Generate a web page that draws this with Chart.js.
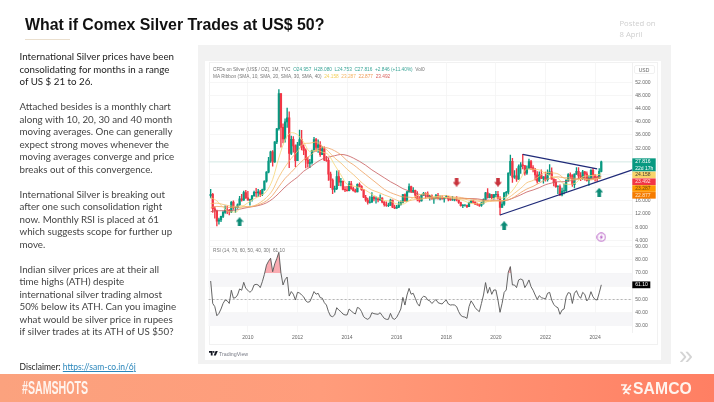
<!DOCTYPE html>
<html>
<head>
<meta charset="utf-8">
<title>What if Comex Silver Trades at US$ 50?</title>
<script src="https://cdn.jsdelivr.net/npm/chart.js@4/dist/chart.umd.min.js"></script>
<style>
html, body { margin: 0; padding: 0; background: #fff; }
#page { position: relative; width: 714px; height: 402px; overflow: hidden; font-family: "Liberation Sans", Arial, sans-serif; filter: blur(0.3px); }
#page > * { position: absolute; }
#title { left: 25px; top: 15px; font-size: 15.9px; font-weight: bold; color: #111; white-space: nowrap; line-height: 20px; }
#rule { left: 25px; top: 39px; width: 45px; height: 1px; background: #eadfce; }
#story { left: 19.5px; top: 50px; width: 172px; font-family: Lato, sans-serif; font-size: 9.75px; line-height: 12.52px; color: #444; white-space: nowrap; }
#story b { font-weight: normal; color: #1b1b1b; }
#disclaimer { left: 19.5px; top: 361px; font-family: Lato, sans-serif; font-size: 8.5px; line-height: 12px; color: #222; white-space: nowrap; }
#disclaimer a { color: #2a86bb; text-decoration: underline; }
#posted { left: 619.5px; top: 18px; font-family: "Open Sans", sans-serif; font-size: 7.7px; line-height: 11px; color: #cfcfcf; white-space: nowrap; }
#frame { left: 198px; top: 45px; width: 472.5px; height: 319px; background: #f2f2f2; }
#sheet { left: 205px; top: 61px; width: 455.5px; height: 299px; background: #fff; }
#border { left: 208.5px; top: 62px; width: 449px; height: 283px; border: 1px solid #f1f1f1; box-sizing: border-box; }
canvas { position: absolute; left: 205px; }
#priceChart { top: 61px; }
#rsiChart { top: 244px; }
.legend { font-size: 4.75px; line-height: 7px; color: #777; white-space: nowrap; }
#legend1 { left: 213px; top: 65.5px; }
#legend2 { left: 213px; top: 72.5px; }
#legend3 { left: 213px; top: 246.5px; }
.teal { color: #3aa597; }
#usd { left: 633.5px; top: 65px; width: 21px; height: 9px; border: 1px solid #f0f0f0; border-radius: 2px; font-size: 5px; line-height: 8px; text-align: center; color: #666; box-sizing: border-box; }
#tvlogo { left: 209px; top: 351px; }
#tvname { left: 219px; top: 349.5px; font-size: 5.3px; line-height: 8px; color: #787b86; }
#more { left: 679px; top: 343px; font-size: 25px; line-height: 25px; color: #d4d4d4; }
#band { left: 0; top: 374px; width: 714px; height: 28px; background: linear-gradient(90deg, #fba27e 0%, #ff9c7b 45%, #ff7f63 100%); }
#tag { left: 22px; top: 378px; font-family: "Liberation Sans", sans-serif; font-size: 18px; font-weight: bold; line-height: 20px; color: #fff4ee; white-space: nowrap; transform-origin: left center; transform: scaleX(0.59); }
#samco { left: 633px; top: 379.5px; font-size: 15.7px; font-weight: bold; line-height: 18px; color: #fff4ee; letter-spacing: 0.1px; white-space: nowrap; }
#mark { left: 620px; top: 384px; }
</style>
</head>
<body>
<div id="page">
  <div id="title">What if Comex Silver Trades at US$ 50?</div>
  <div id="rule"></div>
  <div id="story"><b>International Silver prices have been<br>consolidating for months in a range<br>of US $ 21 to 26.</b><br><br>Attached besides is a monthly chart<br>along with 10, 20, 30 and 40 month<br>moving averages. One can generally<br>expect strong moves whenever the<br>moving averages converge and price<br>breaks out of this convergence.<br><br>International Silver is breaking out<br>after one such consolidation right<br>now. Monthly RSI is placed at 61<br>which suggests scope for further up<br>move.<br><br>Indian silver prices are at their all<br>time highs (ATH) despite<br>international silver trading almost<br>50% below its ATH. Can you imagine<br>what would be silver price in rupees<br>if silver trades at its ATH of US $50?</div>
  <div id="disclaimer">Disclaimer: <a href="https://sam-co.in/6j">https://sam-co.in/6j</a></div>
  <div id="posted">Posted on<br>8 April</div>
  <div id="frame"></div>
  <div id="sheet"></div>
  <div id="border"></div>
  <canvas id="priceChart" width="455" height="184"></canvas>
  <canvas id="rsiChart" width="455" height="102"></canvas>
  <div id="legend1" class="legend">CFDs on Silver (US$ / OZ), 1M, TVC&nbsp; <span class="teal">O24.957 &nbsp;H28.080 &nbsp;L24.753 &nbsp;C27.816 &nbsp;+2.846 (+11.40%)</span>&nbsp; Vol0</div>
  <div id="legend2" class="legend">MA Ribbon (SMA, 10, SMA, 20, SMA, 30, SMA, 40)&nbsp; <span style="color:#f2cf5b">24.158</span>&nbsp; <span style="color:#f3b463">23.287</span>&nbsp; <span style="color:#ee9a55">22.877</span>&nbsp; <span style="color:#d9605c">23.492</span></div>
  <div id="legend3" class="legend">RSI (14, 70, 60, 50, 40, 30)&nbsp; 61.10</div>
  <div id="usd">USD</div>
  <svg id="tvlogo" width="9" height="5" viewBox="0 0 9 5"><path d="M0 0 H3.6 V4.6 H1.8 V1.8 H0 Z M6.6 0 H8.8 L6.8 4.6 H4.7 Z" fill="#131722"/><circle cx="4.7" cy="0.9" r="0.9" fill="#131722"/></svg>
  <div id="tvname">TradingView</div>
  <div id="more">&raquo;</div>
  <div id="band"></div>
  <div id="tag">#SAMSHOTS</div>
  <svg id="mark" width="12" height="11" viewBox="0 0 12 11"><path d="M1 1 H6 L3.5 5.5 H11 M11 1 L3.5 10 M5 7 L9.5 10" fill="none" stroke="#fff4ee" stroke-width="1.6"/></svg>
  <div id="samco">SAMCO</div>
</div>

<script>
// Monthly time axis, one blank month in front and the empty space to the right of the last candle
const months = [
    '2008-06','2008-07','2008-08','2008-09','2008-10','2008-11','2008-12',
    '2009-01','2009-02','2009-03','2009-04','2009-05','2009-06','2009-07','2009-08','2009-09','2009-10','2009-11','2009-12',
    '2010-01','2010-02','2010-03','2010-04','2010-05','2010-06','2010-07','2010-08','2010-09','2010-10','2010-11','2010-12',
    '2011-01','2011-02','2011-03','2011-04','2011-05','2011-06','2011-07','2011-08','2011-09','2011-10','2011-11','2011-12',
    '2012-01','2012-02','2012-03','2012-04','2012-05','2012-06','2012-07','2012-08','2012-09','2012-10','2012-11','2012-12',
    '2013-01','2013-02','2013-03','2013-04','2013-05','2013-06','2013-07','2013-08','2013-09','2013-10','2013-11','2013-12',
    '2014-01','2014-02','2014-03','2014-04','2014-05','2014-06','2014-07','2014-08','2014-09','2014-10','2014-11','2014-12',
    '2015-01','2015-02','2015-03','2015-04','2015-05','2015-06','2015-07','2015-08','2015-09','2015-10','2015-11','2015-12',
    '2016-01','2016-02','2016-03','2016-04','2016-05','2016-06','2016-07','2016-08','2016-09','2016-10','2016-11','2016-12',
    '2017-01','2017-02','2017-03','2017-04','2017-05','2017-06','2017-07','2017-08','2017-09','2017-10','2017-11','2017-12',
    '2018-01','2018-02','2018-03','2018-04','2018-05','2018-06','2018-07','2018-08','2018-09','2018-10','2018-11','2018-12',
    '2019-01','2019-02','2019-03','2019-04','2019-05','2019-06','2019-07','2019-08','2019-09','2019-10','2019-11','2019-12',
    '2020-01','2020-02','2020-03','2020-04','2020-05','2020-06','2020-07','2020-08','2020-09','2020-10','2020-11','2020-12',
    '2021-01','2021-02','2021-03','2021-04','2021-05','2021-06','2021-07','2021-08','2021-09','2021-10','2021-11','2021-12',
    '2022-01','2022-02','2022-03','2022-04','2022-05','2022-06','2022-07','2022-08','2022-09','2022-10','2022-11','2022-12',
    '2023-01','2023-02','2023-03','2023-04','2023-05','2023-06','2023-07','2023-08','2023-09','2023-10','2023-11','2023-12',
    '2024-01','2024-02','2024-03','2024-04','2024-05','2024-06','2024-07','2024-08','2024-09','2024-10','2024-11','2024-12',
    '2025-01','2025-02','2025-03','2025-04','2025-05','2025-06','2025-07'
];

// Candles run from 2008-07 to 2024-04
const opens = [
    17.6,18.0,13.6,12.9,9.8,10.2,
    11.3,12.5,13.2,13.1,12.6,15.6,13.9,13.9,14.8,16.6,16.2,18.5,
    16.9,16.2,16.4,17.5,18.6,18.4,18.7,18.0,19.4,22.0,24.7,28.1,
    30.9,27.8,33.9,37.9,48.6,38.3,34.8,40.0,41.2,30.4,34.7,32.7,
    28.2,33.0,34.6,32.3,31.3,28.4,27.4,27.6,31.3,34.6,32.2,33.0,
    30.0,31.8,28.4,28.3,24.1,22.3,19.5,19.7,23.4,21.7,21.9,19.5,
    19.3,19.1,21.2,19.7,19.1,18.7,21.0,20.4,19.4,17.1,16.2,15.5,
    15.6,17.1,16.6,16.6,16.3,16.8,15.6,14.8,14.6,14.6,16.2,14.1,
    13.8,14.1,14.8,15.5,17.9,15.9,18.7,20.3,18.7,19.2,17.7,16.5,
    16.0,17.8,18.3,18.1,17.2,17.5,16.6,16.7,17.6,16.6,16.7,16.6,
    17.0,17.3,16.5,16.3,16.3,16.4,16.3,15.5,14.5,14.7,14.7,14.2,
    15.5,16.0,15.6,15.0,14.9,14.6,15.3,16.4,18.4,17.0,17.9,17.0,
    17.9,18.0,16.7,14.0,15.0,18.4,18.6,24.4,28.0,23.2,23.6,22.6,
    26.4,26.9,26.7,24.4,25.9,27.9,26.1,25.5,23.9,22.0,23.9,22.8,
    23.3,22.4,24.3,24.8,22.6,21.6,20.3,20.3,17.8,19.0,19.1,22.3,
    24.0,23.7,20.9,24.1,25.0,23.6,22.7,24.8,24.2,22.1,22.9,25.3,
    23.8,23.0,22.9,24.957
];
const highs = [
    19.5,18.3,14.2,13.2,10.8,11.4,
    12.9,14.5,14.4,13.4,15.8,16.0,14.2,15.1,17.4,18.0,19.0,19.2,
    18.9,16.5,17.7,19.0,19.8,19.5,19.2,19.6,22.1,24.9,29.2,31.1,
    31.3,34.0,38.0,49.8,48.6,39.4,40.9,44.2,43.0,35.7,35.5,33.0,
    33.8,37.5,37.4,33.0,31.8,29.2,28.6,31.4,35.3,35.0,34.5,34.0,
    32.5,32.4,29.5,29.0,24.7,22.7,20.5,25.1,25.2,22.8,22.1,20.3,
    20.4,21.9,21.9,20.2,19.6,21.2,21.5,20.6,19.5,17.7,16.8,17.3,
    18.5,17.4,17.2,17.0,17.8,17.0,15.8,15.7,15.3,16.5,16.2,14.7,
    14.6,15.7,16.0,18.0,18.1,18.9,21.2,20.5,20.0,19.3,18.8,17.3,
    17.9,18.6,18.5,18.7,17.7,17.8,17.0,18.0,18.3,17.5,17.5,17.1,
    17.7,17.4,16.9,17.4,16.7,17.3,16.1,15.6,14.9,14.9,14.6,15.6,
    16.2,16.2,15.7,15.3,15.0,15.6,16.6,18.6,19.7,18.2,18.0,18.0,
    18.9,18.9,17.3,15.8,18.5,18.9,24.5,29.9,28.9,25.2,25.8,26.9,
    27.6,30.1,26.7,26.6,28.7,28.3,26.7,25.9,24.9,24.8,25.4,23.4,
    24.7,25.4,27.0,26.0,22.7,22.5,20.6,20.9,19.9,21.2,22.4,24.3,
    24.5,24.0,24.2,26.1,26.1,24.6,25.3,25.0,24.8,23.7,25.5,25.9,
    24.0,23.5,25.8,28.08
];
const lows = [
    16.9,12.5,10.7,8.4,8.9,9.7,
    10.9,12.2,12.1,11.7,12.4,13.4,12.5,13.7,14.6,15.9,16.1,16.7,
    16.2,14.7,15.9,17.4,17.2,17.3,17.3,17.6,19.2,21.7,24.5,27.7,
    26.5,27.7,33.4,37.5,32.3,33.6,33.8,38.3,26.1,30.0,30.8,26.4,
    28.2,32.8,31.5,30.0,26.0,26.2,26.1,27.1,31.0,31.0,30.7,29.5,
    30.0,28.2,28.0,22.2,20.0,18.2,18.6,19.4,20.6,20.5,19.3,18.8,
    18.9,19.0,19.5,18.9,18.6,18.7,20.2,19.2,17.0,15.8,15.0,15.3,
    15.5,16.0,15.3,15.7,16.1,15.4,14.4,14.3,14.2,14.6,13.9,13.6,
    13.7,13.9,14.7,15.4,15.8,15.8,18.6,18.5,18.5,16.9,16.0,15.6,
    15.9,17.6,16.8,17.1,16.2,16.5,15.2,16.6,16.6,16.3,16.5,15.6,
    17.0,16.0,16.1,16.1,16.0,16.0,15.2,14.4,13.9,14.4,13.9,14.2,
    15.3,15.3,14.8,14.6,14.3,14.3,15.0,16.2,16.8,16.9,16.6,16.5,
    17.2,16.5,11.7,14.0,14.6,17.2,18.0,23.7,21.6,22.8,21.9,22.5,
    24.3,25.7,23.8,24.0,25.7,25.5,24.8,22.3,21.4,21.9,22.7,21.4,
    22.0,22.0,24.0,22.6,20.5,20.1,18.2,17.6,17.5,18.1,18.8,21.9,
    22.8,20.4,19.9,24.0,22.7,22.1,22.5,22.3,22.0,20.7,22.6,22.5,
    22.0,21.9,22.7,24.753
];
const closes = [
    18.0,13.6,12.9,9.8,10.2,11.3,
    12.5,13.2,13.1,12.6,15.6,13.9,13.9,14.8,16.6,16.2,18.5,16.9,
    16.2,16.4,17.5,18.6,18.4,18.7,18.0,19.4,22.0,24.7,28.1,30.9,
    27.8,33.9,37.9,48.6,38.3,34.8,40.0,41.2,30.4,34.7,32.7,28.2,
    33.0,34.6,32.3,31.3,28.4,27.4,27.6,31.3,34.6,32.2,33.0,30.0,
    31.8,28.4,28.3,24.1,22.3,19.5,19.7,23.4,21.7,21.9,19.5,19.3,
    19.1,21.2,19.7,19.1,18.7,21.0,20.4,19.4,17.1,16.2,15.5,15.6,
    17.1,16.6,16.6,16.3,16.8,15.6,14.8,14.6,14.6,16.2,14.1,13.8,
    14.1,14.8,15.5,17.9,15.9,18.7,20.3,18.7,19.2,17.7,16.5,16.0,
    17.8,18.3,18.1,17.2,17.5,16.6,16.7,17.6,16.6,16.7,16.6,17.0,
    17.3,16.5,16.3,16.3,16.4,16.3,15.5,14.5,14.7,14.7,14.2,15.5,
    16.0,15.6,15.0,14.9,14.6,15.3,16.4,18.4,17.0,17.9,17.0,17.9,
    18.0,16.7,14.0,15.0,18.4,18.6,24.4,28.0,23.2,23.6,22.6,26.4,
    26.9,26.7,24.4,25.9,27.9,26.1,25.5,23.9,22.0,23.9,22.8,23.3,
    22.4,24.3,24.8,22.6,21.6,20.3,20.3,17.8,19.0,19.1,22.3,24.0,
    23.7,20.9,24.1,25.0,23.6,22.7,24.8,24.2,22.1,22.9,25.3,23.8,
    23.0,22.9,24.957,27.816
];

const maMonths = [
    '2008-07','2008-10',
    '2009-01','2009-04','2009-07','2009-10','2010-01','2010-04','2010-07','2010-10',
    '2011-01','2011-04','2011-07','2011-10','2012-01','2012-04','2012-07','2012-10',
    '2013-01','2013-04','2013-07','2013-10','2014-01','2014-04','2014-07','2014-10',
    '2015-01','2015-04','2015-07','2015-10','2016-01','2016-04','2016-07','2016-10',
    '2017-01','2017-04','2017-07','2017-10','2018-01','2018-04','2018-07','2018-10',
    '2019-01','2019-04','2019-07','2019-10','2020-01','2020-04','2020-07','2020-10',
    '2021-01','2021-04','2021-07','2021-10','2022-01','2022-04','2022-07','2022-10',
    '2023-01','2023-04','2023-07','2023-10','2024-01','2024-04'
];
const ma10 = [
    17.0,16.0,
    14.0,12.7,12.6,14.1,15.4,16.6,17.5,18.9,
    22.5,29.1,34.5,36.7,36.1,33.8,31.0,31.4,
    30.8,30.0,26.9,23.9,21.0,20.5,20.0,19.2,
    18.0,17.0,16.1,15.9,15.1,15.0,16.1,17.3,
    18.0,18.1,17.2,17.2,17.0,16.8,16.5,15.9,
    15.2,15.1,15.3,16.1,16.9,16.8,17.8,19.9,
    22.8,25.7,25.6,25.4,24.3,23.4,22.9,21.1,
    21.0,21.6,23.3,23.6,23.8,24.158
];
const ma20 = [
    15.2,15.3,
    14.9,14.5,14.3,14.5,14.2,14.5,15.5,17.0,
    19.3,23.2,26.3,28.9,31.0,33.4,33.5,33.9,
    32.6,31.0,29.0,27.5,25.6,24.0,22.2,20.5,
    19.3,18.6,17.8,17.1,16.2,15.7,16.0,16.4,
    16.5,17.0,17.1,17.5,17.6,17.2,16.8,16.5,
    16.1,15.9,15.7,15.8,16.0,16.0,16.9,18.3,
    19.8,21.5,22.2,23.5,24.7,24.5,24.2,22.9,
    22.4,22.4,22.7,22.3,22.6,23.287
];
const ma30 = [
    13.9,14.3,
    14.2,14.0,13.9,14.1,14.2,14.4,15.0,16.0,
    17.7,20.3,22.8,24.7,26.7,28.5,29.7,31.3,
    32.3,32.0,31.2,30.0,28.2,27.0,25.5,24.0,
    22.5,21.0,19.5,18.5,17.8,17.2,17.1,16.9,
    16.8,16.8,16.6,16.9,17.0,17.1,17.1,16.8,
    16.6,16.3,16.1,16.0,16.0,16.0,16.3,17.2,
    18.5,19.6,20.4,21.4,22.4,23.0,23.3,23.0,
    23.0,22.8,22.9,22.5,22.7,22.877
];
const ma40 = [
    12.7,13.0,
    13.0,13.0,13.2,13.6,14.0,14.3,14.7,15.4,
    16.6,18.3,20.2,21.8,23.2,25.0,26.2,27.6,
    28.7,29.3,29.7,30.1,29.8,29.0,28.0,26.8,
    25.4,24.2,23.0,21.8,20.8,19.7,19.0,18.3,
    17.8,17.4,17.0,16.9,16.8,16.6,16.6,16.7,
    16.7,16.6,16.3,16.2,16.2,16.0,16.3,17.0,
    17.8,18.7,19.3,20.0,20.9,21.4,21.8,21.8,
    22.1,22.5,22.9,22.8,23.0,23.492
];

// Two trendlines: month and price of each end
const supportMonths = ['2020-03', '2025-07'];
const supportPrices = [11.7, 25.4];
const resistanceMonths = ['2021-02', '2024-02'];
const resistancePrices = [30.1, 25.7];

// Arrows and the event marker
const upArrowMonths = ['2009-09', '2020-05', '2024-03'];
const upArrowPrices = [9.66, 8.45, 18.6];
const downArrowMonths = ['2018-06', '2020-02'];
const downArrowPrices = [21.7, 21.7];
const eventMonths = ['2024-04'];
const eventPrices = [4.97];

const rsiValues = [
    64,47,44.6,37.7,39.5,42.8,
    47,49.6,49,47,57,51,51.4,53.4,58,57,63,58.4,
    57,55.4,57,61,61.5,61,59,63.5,69,76,79,81.2,
    71,77,81,85.7,70,61,65,67,52.6,56,54,49.6,
    55.4,55,53.4,52,49,47.9,48.4,52,56,54,54.7,51.4,
    51,47.6,45.8,40.8,37.5,37,38.3,43.8,42,40.8,39,38.3,
    38.3,42.8,41.3,40,39,44,43.3,40.8,37,35.7,35,36.2,
    40,39.3,39,38.8,40,37.8,35.7,35,35,39.5,35.7,35,
    36.5,39.5,42.8,51.6,45.8,53.4,58.4,54,54.7,50.9,47,45,
    50.9,52.4,52,49.6,49,47,48.4,50,47.6,47,46.6,48.4,
    49.6,46.6,45.8,46,45.8,44.6,40.8,38,37,36.7,35.7,44.6,
    49,46.6,43.8,42,40.8,47,53.4,62.8,54.7,59.2,53.9,57.2,
    57.2,49.6,40.3,47,55.4,57.2,70.6,74.9,61,61,59,64.8,
    65.5,64.8,59,61.5,64.8,59.7,57,53.4,50,52.9,51.4,50.9,
    50.4,54.7,55.4,49.6,46.3,44.6,43.8,38.8,42,42.8,52,55.2,
    54.7,47,54.7,56.7,52.9,50.9,55.4,53.9,48.9,50.9,55.9,52,
    50,49.6,55,61.1
];

// Axis ticks
const priceTicks = [4, 8, 12, 16, 20, 24, 28, 32, 36, 40, 44, 48, 52];
const rsiTicks = [30, 40, 50, 60, 70, 80, 90];
const yearTicks = ['2010-01', '2012-01', '2014-01', '2016-01', '2018-01', '2020-01', '2022-01', '2024-01'];

// Price tags stacked on the right axis
const tagLabels = [['27.816', '22d 17h'], ['24.158'], ['23.492'], ['23.287'], ['22.877']];
const tagColors = ['#089981', '#f8d46a', '#f23645', '#ff9800', '#f57c00'];
const tagTextColors = ['#ffffff', '#4a4030', '#ffe3df', '#6b4a10', '#ffe9cc'];

const candleMonths = months.slice(1, closes.length + 1);
const upColor = '#089981';
const downColor = '#f23645';
const fontFamily = '"Liberation Sans", Arial, sans-serif';

// Fixed axis size and no label margins, so both panes line up with the axis values
function fixAxisWidth(scale) {
    scale.width = 25;
    scale.paddingTop = 0;
    scale.paddingBottom = 0;
}

function valueTicks(list) {
    return function(scale) {
        scale.ticks = list.map(v => ({ value: v }));
    };
}

function yearGridTicks(scale) {
    scale.ticks = yearTicks.map(m => ({ value: months.indexOf(m) }));
}

function yearLabel(value) {
    return months[value].slice(0, 4);
}

function lineSeries(xs, ys) {
    return xs.map((x, i) => ({ x: x, y: ys[i] }));
}

function maDataset(values, color) {
    return {
        type: 'line',
        data: lineSeries(maMonths, values),
        borderColor: color,
        borderWidth: 0.8,
        pointRadius: 0,
        cubicInterpolationMode: 'monotone',
        order: 2
    };
}

function trendDataset(xs, ys) {
    return {
        type: 'line',
        data: lineSeries(xs, ys),
        borderColor: '#1f2a78',
        borderWidth: 1.2,
        pointRadius: 0,
        clip: false,
        order: 1
    };
}

// Small offscreen icons used as point styles
function makeArrow(color, down) {
    const c = document.createElement('canvas');
    c.width = 8;
    c.height = 9;
    const g = c.getContext('2d');
    g.fillStyle = color;
    if (down) {
        g.translate(0, 9);
        g.scale(1, -1);
    }
    g.beginPath();
    g.moveTo(4, 0);
    g.lineTo(8, 4.4);
    g.lineTo(5.8, 4.4);
    g.lineTo(5.8, 9);
    g.lineTo(2.2, 9);
    g.lineTo(2.2, 4.4);
    g.lineTo(0, 4.4);
    g.closePath();
    g.fill();
    return c;
}

function makeEventIcon() {
    const c = document.createElement('canvas');
    c.width = 10;
    c.height = 10;
    const g = c.getContext('2d');
    g.strokeStyle = '#b04fc0';
    g.lineWidth = 0.9;
    g.beginPath();
    g.arc(5, 5, 4.2, 0, Math.PI * 2);
    g.stroke();
    g.fillStyle = '#b04fc0';
    g.beginPath();
    g.moveTo(5.8, 2);
    g.lineTo(3.3, 5.4);
    g.lineTo(4.8, 5.4);
    g.lineTo(4.2, 8);
    g.lineTo(6.8, 4.5);
    g.lineTo(5.2, 4.5);
    g.closePath();
    g.fill();
    return c;
}

function markerDataset(xs, ys, icon) {
    return {
        type: 'line',
        data: lineSeries(xs, ys),
        showLine: false,
        pointStyle: icon,
        order: 0
    };
}

function initializeCharts() {
    // Last price line and the stacked tags
    const priceOverlay = {
        id: 'priceOverlay',
        beforeDatasetsDraw(chart) {
            const ctx = chart.ctx;
            const area = chart.chartArea;
            const y = chart.scales.y.getPixelForValue(closes[closes.length - 1]);
            ctx.save();
            ctx.strokeStyle = '#d8ece8';
            ctx.lineWidth = 1;
            ctx.beginPath();
            ctx.moveTo(area.left, y);
            ctx.lineTo(area.right, y);
            ctx.stroke();
            ctx.restore();
        },
        afterDraw(chart) {
            const ctx = chart.ctx;
            const area = chart.chartArea;
            let top = chart.scales.y.getPixelForValue(closes[closes.length - 1]) - 3.6;
            ctx.save();
            ctx.textAlign = 'left';
            ctx.textBaseline = 'middle';
            tagLabels.forEach((lines, i) => {
                const h = lines.length > 1 ? 13.3 : 6.8;
                ctx.fillStyle = tagColors[i];
                ctx.fillRect(area.right, top, 23.4, h - 0.2);
                ctx.fillStyle = tagTextColors[i];
                ctx.font = '5px ' + fontFamily;
                lines.forEach((line, j) => {
                    ctx.fillText(line, area.right + 3, top + 3.4 + j * 6.4);
                });
                top += h;
            });
            ctx.restore();
        }
    };

    window.priceChart = new Chart(document.getElementById('priceChart').getContext('2d'), {
        type: 'bar',
        plugins: [priceOverlay],
        data: {
            labels: months,
            datasets: [
                {
                    data: lineSeries(candleMonths, candleMonths.map((m, i) => [lows[i], highs[i]])),
                    backgroundColor: closes.map((c, i) => c >= opens[i] ? upColor : downColor),
                    barThickness: 0.7,
                    grouped: false,
                    order: 4
                },
                {
                    data: lineSeries(candleMonths, candleMonths.map((m, i) => [opens[i], closes[i]])),
                    backgroundColor: closes.map((c, i) => c >= opens[i] ? upColor : downColor),
                    barThickness: 1.6,
                    grouped: false,
                    order: 3
                },
                maDataset(ma10, '#f6d675'),
                maDataset(ma20, '#f5bd6c'),
                maDataset(ma30, '#ef9f60'),
                maDataset(ma40, '#c65a5c'),
                trendDataset(supportMonths, supportPrices),
                trendDataset(resistanceMonths, resistancePrices),
                markerDataset(upArrowMonths, upArrowPrices, makeArrow('#0b8a75', false)),
                markerDataset(downArrowMonths, downArrowPrices, makeArrow('#c8323c', true)),
                markerDataset(eventMonths, eventPrices, makeEventIcon())
            ]
        },
        options: {
            responsive: false,
            animation: false,
            layout: { autoPadding: false, padding: { left: 3.6, right: 2.7, top: 1, bottom: 1 } },
            plugins: { legend: { display: false }, tooltip: { enabled: false } },
            scales: {
                x: {
                    offset: false,
                    afterBuildTicks: yearGridTicks,
                    ticks: { display: false, autoSkip: false },
                    grid: { color: '#f4f4f4', lineWidth: 0.8, offset: false, drawTicks: false },
                    border: { display: false }
                },
                y: {
                    position: 'right',
                    min: 2.89,
                    max: 58.17,
                    afterFit: fixAxisWidth,
                    afterBuildTicks: valueTicks(priceTicks),
                    ticks: {
                        padding: 3,
                        color: '#666',
                        font: { size: 5, family: fontFamily },
                        callback: v => v.toFixed(3)
                    },
                    grid: { color: '#f4f4f4', lineWidth: 0.8, drawTicks: false },
                    border: { color: '#f0f0f0' }
                }
            }
        }
    });

    // Bands and the dashed middle of the RSI pane
    const rsiBands = {
        id: 'rsiBands',
        beforeDatasetsDraw(chart) {
            const ctx = chart.ctx;
            const area = chart.chartArea;
            const y = chart.scales.y;
            ctx.save();
            ctx.fillStyle = '#f6f6f8';
            ctx.fillRect(area.left, y.getPixelForValue(70), area.width, y.getPixelForValue(60) - y.getPixelForValue(70));
            ctx.fillRect(area.left, y.getPixelForValue(40), area.width, y.getPixelForValue(30) - y.getPixelForValue(40));
            ctx.strokeStyle = '#9a9a9a';
            ctx.lineWidth = 0.7;
            ctx.setLineDash([2, 2]);
            ctx.beginPath();
            ctx.moveTo(area.left, y.getPixelForValue(50));
            ctx.lineTo(area.right, y.getPixelForValue(50));
            ctx.stroke();
            ctx.restore();
        },
        afterDraw(chart) {
            const ctx = chart.ctx;
            const area = chart.chartArea;
            const yy = chart.scales.y.getPixelForValue(rsiValues[rsiValues.length - 1]);
            ctx.save();
            ctx.fillStyle = '#000';
            ctx.fillRect(area.right, yy - 3.4, 18, 6.8);
            ctx.fillStyle = '#fff';
            ctx.font = '5px ' + fontFamily;
            ctx.textAlign = 'left';
            ctx.textBaseline = 'middle';
            ctx.fillText('61.10', area.right + 3, yy + 0.2);
            ctx.restore();
        }
    };

    window.rsiChart = new Chart(document.getElementById('rsiChart').getContext('2d'), {
        type: 'line',
        plugins: [rsiBands],
        data: {
            labels: months,
            datasets: [{
                data: lineSeries(candleMonths, rsiValues),
                borderColor: '#555',
                borderWidth: 0.9,
                pointRadius: 0,
                fill: { target: { value: 70 }, above: 'rgba(242, 54, 69, 0.42)', below: 'rgba(0, 0, 0, 0)' }
            }]
        },
        options: {
            responsive: false,
            animation: false,
            layout: { autoPadding: false, padding: { left: 3.6, right: 2.7, top: 0, bottom: 0 } },
            plugins: { legend: { display: false }, tooltip: { enabled: false } },
            scales: {
                x: {
                    offset: false,
                    afterBuildTicks: yearGridTicks,
                    afterFit: function(scale) { scale.height = 14; },
                    ticks: {
                        autoSkip: false,
                        maxRotation: 0,
                        padding: 3,
                        color: '#666',
                        font: { size: 5, family: fontFamily },
                        callback: yearLabel
                    },
                    grid: { color: '#f4f4f4', lineWidth: 0.8, offset: false, drawTicks: false },
                    border: { display: false }
                },
                y: {
                    position: 'right',
                    min: 25.4,
                    max: 92,
                    afterFit: fixAxisWidth,
                    afterBuildTicks: valueTicks(rsiTicks),
                    ticks: {
                        padding: 3,
                        color: '#666',
                        font: { size: 5, family: fontFamily },
                        callback: v => v.toFixed(2)
                    },
                    grid: { color: '#f4f4f4', lineWidth: 0.8, drawTicks: false },
                    border: { color: '#f0f0f0' }
                }
            }
        }
    });
}

document.addEventListener('DOMContentLoaded', function() {
    initializeCharts();
});
</script>
</body>
</html>
